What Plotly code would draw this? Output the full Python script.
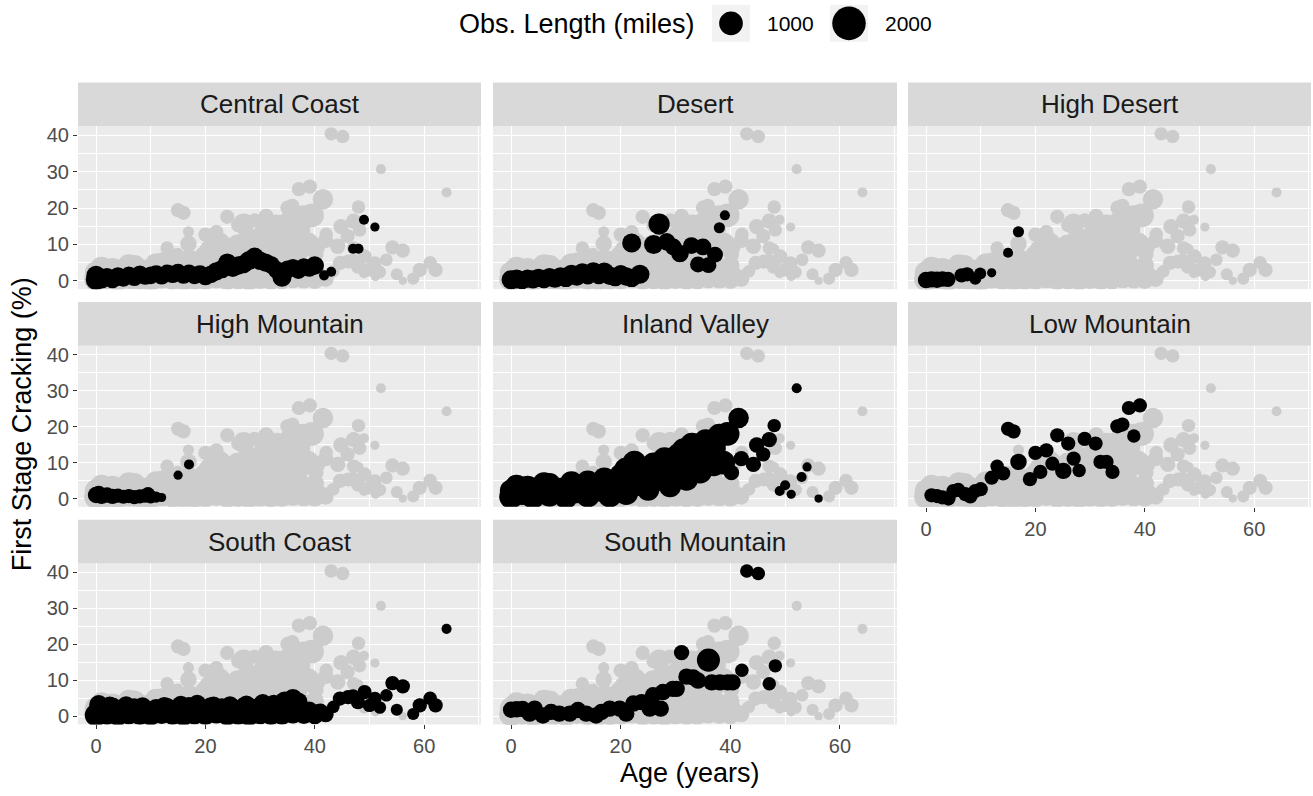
import numpy as np
import plotly.graph_objects as go

W, H = 1313, 796

REGIONS = ["Central Coast", "Desert", "High Desert", "High Mountain",
           "Inland Valley", "Low Mountain", "South Coast", "South Mountain"]

# ---------------- data (age in years, first stage cracking %, observed length miles) --------------
cc_age = [0, 0, 1, 2, 3, 4, 5, 6, 7, 8, 9, 10, 11, 12, 13, 14, 15, 16, 17, 18, 19, 20, 21, 22, 23, 24,
          25, 26, 27, 28, 29, 30, 31, 32, 33, 34, 35, 36, 37, 38, 39, 40, 41.7, 43, 47, 48, 49, 51]
cc_crack = [0.3, 1.5, 0.5, 1.0, 0.5, 1.2, 0.8, 1.5, 1.0, 1.8, 1.2, 1.5, 2.0, 1.4, 2.2, 1.8, 2.4, 1.6, 2.2,
            1.5, 2.0, 1.2, 1.8, 2.6, 3.2, 5.0, 3.6, 4.2, 4.6, 5.6, 6.5, 5.5, 5.0, 4.4, 3.0, 1.0, 3.2, 3.6,
            2.8, 3.8, 3.4, 4.2, 1.5, 2.5, 8.8, 8.8, 16.8, 14.8]
cc_len = [750, 650, 650, 600, 600, 600, 550, 550, 550, 550, 500, 550, 500, 550, 500, 550, 500, 550, 500,
          550, 500, 550, 550, 600, 600, 600, 600, 600, 600, 650, 650, 600, 600, 550, 550, 650, 550, 550,
          500, 550, 500, 600, 180, 180, 180, 180, 180, 150]

de_age = [0, 1, 2, 3, 4, 5, 6, 7, 8, 9, 10, 11, 12, 13, 14, 15, 16, 17, 18, 19, 20, 21, 22, 23.5,
          22, 27, 26, 28.4, 29.6, 30.8, 32.9, 35, 37.2, 34.1, 36, 39, 38]
de_crack = [0.3, 0.5, 0.2, 0.6, 0.4, 0.8, 0.5, 1.0, 0.6, 1.2, 0.8, 1.8, 1.2, 2.2, 1.5, 2.5, 1.6, 2.4,
            1.4, 1.0, 1.8, 1.2, 0.8, 1.8, 10.4, 15.6, 10.0, 10.7, 9.3, 7.5, 9.7, 9.3, 7.2, 4.5, 4.3,
            18.0, 14.6]
de_len = [650, 650, 600, 600, 600, 600, 600, 600, 600, 600, 600, 650, 600, 650, 600, 650, 600, 650,
          600, 600, 600, 600, 600, 650, 650, 800, 650, 550, 500, 550, 500, 500, 450, 450, 450, 180, 220]

hd_age = [0, 1, 2, 3, 4, 6.5, 7.5, 9, 9.9, 12, 15, 16.9]
hd_crack = [0.2, 0.4, 0.3, 0.5, 0.4, 1.5, 1.8, 0.6, 2.0, 2.2, 7.7, 13.5]
hd_len = [480, 480, 480, 420, 420, 360, 360, 260, 260, 150, 180, 220]

hm_age = [0, 0.5, 1, 2, 3, 4, 5, 6, 7, 8, 9, 9.5, 10, 11, 12, 15, 17]
hm_crack = [1.0, 1.4, 0.6, 1.0, 0.6, 0.8, 0.5, 0.7, 0.4, 0.6, 0.8, 1.2, 0.5, 0.4, 0.3, 6.5, 9.5]
hm_len = [480, 420, 420, 420, 420, 360, 360, 360, 360, 360, 360, 360, 320, 220, 150, 150, 180]

iv_age = [0, 0, 2, 3, 4, 5, 7, 7, 9, 10, 11, 12, 14, 14, 16, 17, 18, 19, 20, 21, 21, 23, 24, 25, 26,
          27, 28, 29, 30, 30.5, 32, 32.5, 33, 34.5, 35, 35.5, 37, 37, 38, 38.7, 39.5, 40.2, 41.5,
          1, 6, 13, 22.5, 28.5, 31.5, 36,
          52.1, 48, 47.1, 44.8, 46, 42, 44.2, 54, 53, 50, 49, 51.1, 56.1]
iv_crack = [0.5, 2.2, 1.5, 3.2, 0.5, 2.5, 1.0, 4.0, 2.5, 0.5, 4.5, 2.0, 0.8, 4.5, 2.5, 5.5, 0.8, 3.5,
            6.5, 8.1, 1.5, 4.0, 7.5, 2.5, 9.5, 5.5, 11.0, 3.5, 8.0, 12.0, 5.5, 10.5, 15.0, 7.5, 12.5,
            16.0, 9.5, 14.0, 17.5, 10.0, 18.0, 7.2, 22.4,
            3.5, 4.2, 3.0, 10.0, 7.0, 13.5, 11.5,
            30.7, 20.3, 16.4, 14.9, 12.3, 11.1, 9.5, 8.8, 6.0, 3.7, 2.1, 1.2, 0.0]
iv_len = [1000, 900, 1000, 900, 1000, 1000, 1000, 900, 1000, 1000, 900, 1000, 1000, 1000, 1000, 900,
          1000, 1000, 900, 1000, 1000, 1000, 1000, 900, 1000, 1000, 1000, 900, 1000, 1000, 1000, 1000,
          1000, 1000, 1000, 1000, 1000, 1000, 1000, 1000, 1000, 420, 750,
          900, 900, 900, 1000, 1000, 1000, 1000,
          180, 320, 420, 420, 360, 420, 420, 150, 180, 180, 180, 150, 120]

lm_age = [1, 2, 3, 4.1, 5, 5.9, 7.2, 8.1, 9, 10, 12, 13, 14.1, 15, 16, 16.9, 19, 20, 20.9, 22, 23.1,
          24, 25.1, 26, 27, 28, 29, 31, 31.9, 33, 34.1, 35, 35.9, 38, 37.1, 39.1]
lm_crack = [0.9, 0.7, 0.3, 0.0, 2.1, 2.4, 1.2, 0.6, 2.1, 2.6, 5.8, 9.0, 7.0, 19.4, 18.7, 10.2, 5.4,
            12.7, 7.4, 13.4, 9.7, 17.6, 7.7, 15.3, 11.1, 7.8, 16.6, 15.3, 10.2, 10.2, 7.4, 20.1, 20.6,
            17.4, 25.2, 25.9]
lm_len = [360, 360, 360, 360, 360, 360, 360, 360, 360, 360, 360, 320, 360, 360, 360, 480, 360, 360,
          360, 360, 360, 360, 480, 360, 360, 320, 360, 360, 360, 360, 360, 360, 360, 320, 360, 360]

sc_age = [0, 2, 4, 6, 8, 10, 12, 14, 16, 18, 20, 22, 24, 26, 28, 30, 32, 34, 36, 38, 40, 42,
          1, 3, 5, 7, 9, 11, 13, 15, 17, 19, 21, 23, 25, 27, 29, 31, 33, 35, 37, 39, 41,
          0.5, 5.5, 12.5, 18.5, 24.5, 30.5, 34.5, 36, 37,
          2.5, 8.5, 15.5, 21.5, 27.5, 32.5,
          43.4, 44.6, 46.1, 47, 47.9, 49.1, 50, 51, 51.9, 53.1, 54.2, 55, 56.1, 58, 59.2, 61.1, 62.1, 64.1]
sc_crack = [0.3, 0.5, 0.2, 0.6, 0.4, 0.3, 0.7, 0.5, 0.2, 0.6, 0.4, 0.8, 0.3, 0.5, 0.2, 0.6, 0.4, 0.5,
            0.8, 0.6, 0.3, 0.5,
            2.0, 2.4, 1.8, 2.2, 1.6, 2.0, 2.3, 1.9, 2.6, 2.1, 2.5, 2.2, 1.8, 2.4, 2.0, 2.6, 2.8, 3.2,
            2.4, 1.5, 1.2,
            3.2, 3.0, 2.8, 3.4, 3.0, 3.6, 4.2, 4.8, 4.0,
            2.9, 2.7, 3.1, 2.9, 3.2, 3.4,
            2.6, 4.9, 5.3, 5.5, 3.9, 6.7, 3.0, 4.9, 2.4, 5.8, 9.2, 1.8, 8.3, 0.6, 3.0, 5.0, 3.0, 24.3]
sc_len = [900, 750, 750, 750, 750, 750, 750, 750, 750, 750, 750, 750, 750, 750, 750, 750, 750, 750,
          750, 700, 600, 450,
          800, 700, 700, 700, 700, 700, 700, 700, 700, 700, 700, 700, 700, 700, 700, 700, 700, 750,
          700, 600, 500,
          650, 600, 600, 600, 600, 600, 650, 700, 600,
          600, 600, 600, 600, 600, 600,
          280, 360, 360, 360, 360, 360, 320, 320, 280, 280, 360, 260, 360, 260, 360, 320, 360, 180]

sm_age = [0, 1, 2.1, 3.4, 4.3, 5.8, 7.3, 8.8, 10.7, 12.2, 13.7, 15.5, 16.5, 18, 19.8, 21, 22.3, 23.8,
          25.3, 25.9, 27.3, 27.7, 29.5, 30.2,
          31.1, 32, 33.2, 34.1, 36, 36.6, 38.1, 39.5, 40.4, 42.1, 43, 45.1, 47.1, 48.2]
sm_crack = [1.8, 1.9, 2.0, 0.7, 2.1, 0.2, 1.2, 0.7, 0.7, 1.7, 0.7, 0.2, 1.2, 2.1, 2.1, 0.7, 3.5, 3.9,
            2.1, 5.8, 2.1, 6.7, 7.6, 7.6,
            17.7, 11.0, 10.8, 9.9, 15.6, 9.4, 9.4, 9.4, 9.4, 12.8, 40.4, 39.7, 9.0, 14.0]
sm_len = [480, 480, 480, 480, 480, 480, 480, 480, 480, 480, 480, 480, 480, 480, 480, 480, 480, 480,
          480, 480, 480, 480, 480, 480,
          420, 480, 480, 480, 950, 480, 480, 480, 480, 320, 320, 320, 320, 320]

LEGEND_BREAKS = [1000, 2000]
LEGEND_TITLE = "Obs. Length (miles)"
X_TITLE = "Age (years)"
Y_TITLE = "First Stage Cracking (%)"

DATA = {
    "Central Coast": (cc_age, cc_crack, cc_len),
    "Desert": (de_age, de_crack, de_len),
    "High Desert": (hd_age, hd_crack, hd_len),
    "High Mountain": (hm_age, hm_crack, hm_len),
    "Inland Valley": (iv_age, iv_crack, iv_len),
    "Low Mountain": (lm_age, lm_crack, lm_len),
    "South Coast": (sc_age, sc_crack, sc_len),
    "South Mountain": (sm_age, sm_crack, sm_len),
}


def size_px(length):
    return 0.75 * np.sqrt(np.asarray(length, dtype=float))


all_age = sum((DATA[r][0] for r in REGIONS), [])
all_crack = sum((DATA[r][1] for r in REGIONS), [])
all_len = sum((DATA[r][2] for r in REGIONS), [])

# ---------------- layout geometry (pixels) ----------------
COL_X = [(78, 481), (493, 897), (908, 1311)]
ROW_Y = [(125, 289), (346, 508), (565, 727)]
STRIP_H = 44
FONT = "Liberation Sans, Arial, Helvetica, sans-serif"


def fx(p):
    return p / W


def fy(p):
    return 1 - p / H


fig = go.Figure()
shapes = []
annotations = []
layout_axes = {}

for i, region in enumerate(REGIONS):
    r, c = divmod(i, 3)
    xs = "x" if i == 0 else f"x{i + 1}"
    ys = "y" if i == 0 else f"y{i + 1}"
    xk = "xaxis" if i == 0 else f"xaxis{i + 1}"
    yk = "yaxis" if i == 0 else f"yaxis{i + 1}"
    x0, x1 = COL_X[c]
    y0, y1 = ROW_Y[r]

    fig.add_trace(go.Scatter(
        x=all_age, y=all_crack, mode="markers", xaxis=xs, yaxis=ys,
        marker=dict(size=size_px(all_len), color="#CCCCCC", opacity=1, line=dict(width=0)),
        showlegend=False, hoverinfo="skip"))
    a, cr, ln = DATA[region]
    fig.add_trace(go.Scatter(
        x=a, y=cr, mode="markers", xaxis=xs, yaxis=ys, name=region,
        marker=dict(size=size_px(ln), color="#000000", opacity=1, line=dict(width=0)),
        showlegend=False))

    show_x = (r == 2) or (i == 5)
    show_y = (c == 0)
    layout_axes[xk] = dict(
        domain=[fx(x0), fx(x1)], range=[-3.3, 70.4], anchor=ys,
        tick0=0, dtick=20, showgrid=True, gridcolor="white", gridwidth=1.1,
        minor=dict(tick0=0, dtick=10, showgrid=True, gridcolor="white", gridwidth=0.5),
        zeroline=False, showline=False,
        showticklabels=show_x, ticks="outside" if show_x else "",
        ticklen=4, tickwidth=1, tickcolor="#333333",
        tickfont=dict(family=FONT, size=20, color="#4D4D4D"))
    layout_axes[yk] = dict(
        domain=[fy(y1), fy(y0)], range=[-2.3, 42.5], anchor=xs,
        tick0=0, dtick=10, showgrid=True, gridcolor="white", gridwidth=1.1,
        minor=dict(tick0=0, dtick=5, showgrid=True, gridcolor="white", gridwidth=0.5),
        zeroline=False, showline=False,
        showticklabels=show_y, ticks="outside" if show_y else "",
        ticklen=4, tickwidth=1, tickcolor="#333333",
        tickfont=dict(family=FONT, size=20, color="#4D4D4D"))

    # strip
    shapes.append(dict(type="rect", xref="paper", yref="paper",
                       x0=fx(x0), x1=fx(x1), y0=fy(y0), y1=fy(y0 - STRIP_H),
                       fillcolor="#D9D9D9", line=dict(width=0), layer="below"))
    annotations.append(dict(text=region, xref="paper", yref="paper",
                            x=fx((x0 + x1) / 2), y=fy(y0 - STRIP_H / 2),
                            xanchor="center", yanchor="middle", showarrow=False,
                            font=dict(family=FONT, size=26, color="#1A1A1A")))

# axis titles
annotations.append(dict(text=X_TITLE, xref="paper", yref="paper", x=fx(690), y=fy(776),
                        xanchor="center", yanchor="middle", showarrow=False,
                        font=dict(family=FONT, size=27, color="#000000")))
annotations.append(dict(text=Y_TITLE, xref="paper", yref="paper", x=fx(22), y=fy(425),
                        xanchor="center", yanchor="middle", showarrow=False, textangle=-90,
                        font=dict(family=FONT, size=27, color="#000000")))

# size legend (top)
annotations.append(dict(text=LEGEND_TITLE, xref="paper", yref="paper", x=fx(697), y=fy(22),
                        xanchor="right", yanchor="middle", showarrow=False,
                        font=dict(family=FONT, size=27, color="#000000")))
key_centers = [731, 849]
for brk, kc in zip(LEGEND_BREAKS, key_centers):
    shapes.append(dict(type="rect", xref="paper", yref="paper",
                       x0=fx(kc - 19), x1=fx(kc + 19), y0=fy(40), y1=fy(3),
                       fillcolor="#F2F2F2", line=dict(width=0)))
    rad = float(size_px(brk)) / 2
    shapes.append(dict(type="circle", xref="paper", yref="paper",
                       xsizemode="pixel", ysizemode="pixel",
                       xanchor=fx(kc), yanchor=fy(21.5),
                       x0=-rad, x1=rad, y0=-rad, y1=rad,
                       fillcolor="#000000", line=dict(width=0)))
    annotations.append(dict(text=str(brk), xref="paper", yref="paper", x=fx(kc + 34), y=fy(22),
                            xanchor="left", yanchor="middle", showarrow=False,
                            font=dict(family=FONT, size=21, color="#000000")))

fig.update_layout(
    width=W, height=H, margin=dict(l=0, r=0, t=0, b=0),
    paper_bgcolor="white", plot_bgcolor="#EBEBEB",
    font=dict(family=FONT),
    shapes=shapes, annotations=annotations, showlegend=False,
    **layout_axes)

fig.write_html("out.html")
